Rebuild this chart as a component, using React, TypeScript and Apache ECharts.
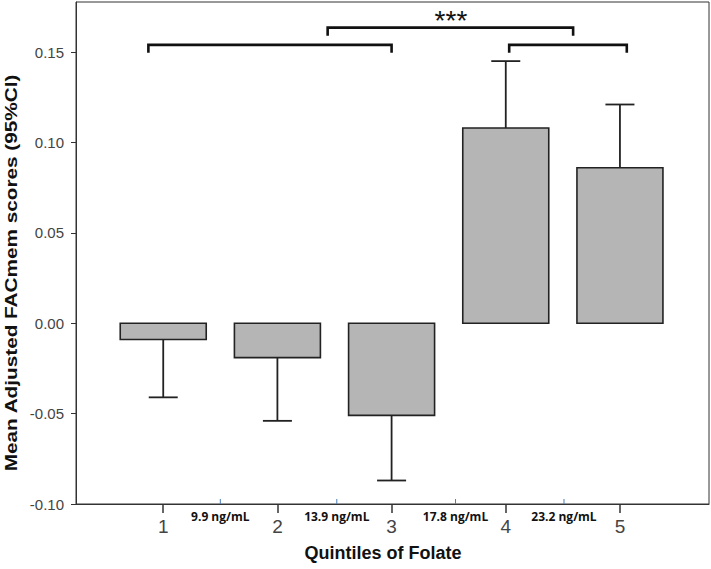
import React, { useEffect, useRef } from "react";
import * as echarts from "echarts";

// ---- data ----
const quintiles = [1, 2, 3, 4, 5];
const meanScores = [-0.009, -0.019, -0.051, 0.108, 0.086];
const ciBounds = [-0.041, -0.054, -0.087, 0.145, 0.121];
const yTickValues = [-0.1, -0.05, 0, 0.05, 0.1, 0.15];
const cutoffPositions = [1.5, 2.52, 3.56, 4.51];
const cutoffLabels = ["9.9 ng/mL", "13.9 ng/mL", "17.8 ng/mL", "23.2 ng/mL"];
const bracketStarts = [0.87, 2.44, 4.03];
const bracketEnds = [3.0, 4.59, 5.06];
const bracketLevels = [0.154, 0.1635, 0.154];
const starX = 3.52;
const starY = 0.171;
const starText = "***";

const xTitle = "Quintiles of Folate";
const yTitle = "Mean Adjusted FACmem scores (95%CI)";

export default function App() {
  const ref = useRef<HTMLDivElement>(null);

  useEffect(() => {
    if (!ref.current) return;
    const chart = echarts.init(ref.current, null, { renderer: "svg" });

    const barData = quintiles.map((q, i) => [q, meanScores[i], ciBounds[i]]);
    const cutoffData = cutoffPositions.map((p) => [p, -0.1]);
    const bracketData = bracketStarts.map((s, i) => [s, bracketEnds[i], bracketLevels[i]]);

    const option: any = {
      animation: false,
      backgroundColor: "#ffffff",
      grid: {
        left: 76,
        right: 2,
        top: 2,
        bottom: 65,
        show: true,
        borderColor: "#333",
        borderWidth: 1,
        backgroundColor: "transparent",
      },
      xAxis: {
        type: "value",
        min: 0.236,
        max: 5.78,
        splitLine: { show: false },
        axisLine: { show: true, onZero: false, lineStyle: { color: "#333", width: 1 } },
        axisTick: {
          show: true,
          customValues: quintiles,
          length: 9,
          lineStyle: { color: "#333", width: 1.5 },
        },
        axisLabel: {
          customValues: quintiles,
          formatter: (v: number) => String(Math.round(v)),
          fontSize: 19,
          fontFamily: '"Liberation Sans Narrow", "Liberation Sans", Arial, sans-serif',
          color: "#444",
          margin: 13,
        },
      },
      yAxis: {
        type: "value",
        min: -0.1,
        max: 0.1777,
        splitLine: { show: false },
        axisLine: { show: true, onZero: false, lineStyle: { color: "#333", width: 1 } },
        axisTick: {
          show: true,
          customValues: yTickValues,
          length: 5,
          lineStyle: { color: "#333", width: 1 },
        },
        axisLabel: {
          customValues: yTickValues,
          formatter: (v: number) => (Math.abs(v) < 1e-9 ? "0.00" : v.toFixed(2)),
          fontSize: 15,
          fontFamily: '"Liberation Sans Narrow", "Liberation Sans", Arial, sans-serif',
          color: "#444",
          margin: 12,
        },
      },
      graphic: [
        {
          type: "text",
          x: 11,
          y: 273,
          rotation: Math.PI / 2,
          scaleX: 1.22,
          style: {
            text: yTitle,
            fontSize: 17,
            fontWeight: "bold",
            fontFamily: '"Liberation Sans", Arial, sans-serif',
            fill: "#111",
            align: "center",
            verticalAlign: "middle",
          },
        },
        {
          type: "text",
          x: 383,
          y: 553,
          style: {
            text: xTitle,
            fontSize: 18,
            fontWeight: "bold",
            fontFamily: '"Liberation Sans", Arial, sans-serif',
            fill: "#111",
            align: "center",
            verticalAlign: "middle",
          },
        },
      ],
      series: [
        {
          type: "custom",
          name: "Mean",
          data: barData,
          clip: false,
          renderItem: (params: any, api: any) => {
            const x = api.value(0);
            const y = api.value(1);
            const e = api.value(2);
            const p0 = api.coord([x, 0]);
            const p1 = api.coord([x, y]);
            const pe = api.coord([x, e]);
            const half = 43;
            const cap = 14.5;
            return {
              type: "group",
              children: [
                {
                  type: "line",
                  shape: { x1: p1[0], y1: p1[1], x2: pe[0], y2: pe[1] },
                  style: { stroke: "#222", lineWidth: 1.8 },
                },
                {
                  type: "line",
                  shape: { x1: pe[0] - cap, y1: pe[1], x2: pe[0] + cap, y2: pe[1] },
                  style: { stroke: "#222", lineWidth: 1.8 },
                },
                {
                  type: "rect",
                  shape: {
                    x: p0[0] - half,
                    y: Math.min(p0[1], p1[1]),
                    width: half * 2,
                    height: Math.abs(p1[1] - p0[1]),
                  },
                  style: { fill: "#b5b5b5", stroke: "#222", lineWidth: 1.6 },
                },
              ],
            };
          },
        },
        {
          type: "custom",
          name: "Cutoffs",
          data: cutoffData,
          clip: false,
          renderItem: (params: any, api: any) => {
            const p = api.coord([api.value(0), api.value(1)]);
            return {
              type: "group",
              children: [
                {
                  type: "line",
                  shape: { x1: p[0], y1: p[1] - 5, x2: p[0], y2: p[1] },
                  style: { stroke: "#4a7ebb", lineWidth: 1 },
                },
                {
                  type: "text",
                  x: p[0],
                  y: p[1] + 12,
                  style: {
                    text: cutoffLabels[params.dataIndex],
                    fontSize: 12,
                    fontWeight: "bold",
                    fontFamily: '"Open Sans", "Liberation Sans", Arial, sans-serif',
                    fill: "#111",
                    align: "center",
                    verticalAlign: "middle",
                  },
                },
              ],
            };
          },
        },
        {
          type: "custom",
          name: "Brackets",
          data: bracketData,
          clip: false,
          renderItem: (params: any, api: any) => {
            const a = api.coord([api.value(0), api.value(2)]);
            const b = api.coord([api.value(1), api.value(2)]);
            const drop = 8;
            return {
              type: "polyline",
              shape: {
                points: [
                  [a[0], a[1] + drop],
                  [a[0], a[1]],
                  [b[0], b[1]],
                  [b[0], b[1] + drop],
                ],
              },
              style: { stroke: "#111", lineWidth: 2.6, fill: null },
            };
          },
        },
        {
          type: "custom",
          name: "Significance",
          data: [[starX, starY]],
          clip: false,
          renderItem: (params: any, api: any) => {
            const p = api.coord([api.value(0), api.value(1)]);
            return {
              type: "text",
              x: p[0],
              y: p[1] + 6,
              style: {
                text: starText,
                fontSize: 28,
                fontFamily: '"Liberation Sans", Arial, sans-serif',
                fill: "#111",
                align: "center",
                verticalAlign: "middle",
              },
            };
          },
        },
      ],
    };

    chart.setOption(option);
    return () => chart.dispose();
  }, []);

  return (
    <div
      ref={ref}
      style={{ position: "fixed", left: 0, top: 0, width: 711, height: 569, background: "#fff" }}
    />
  );
}
